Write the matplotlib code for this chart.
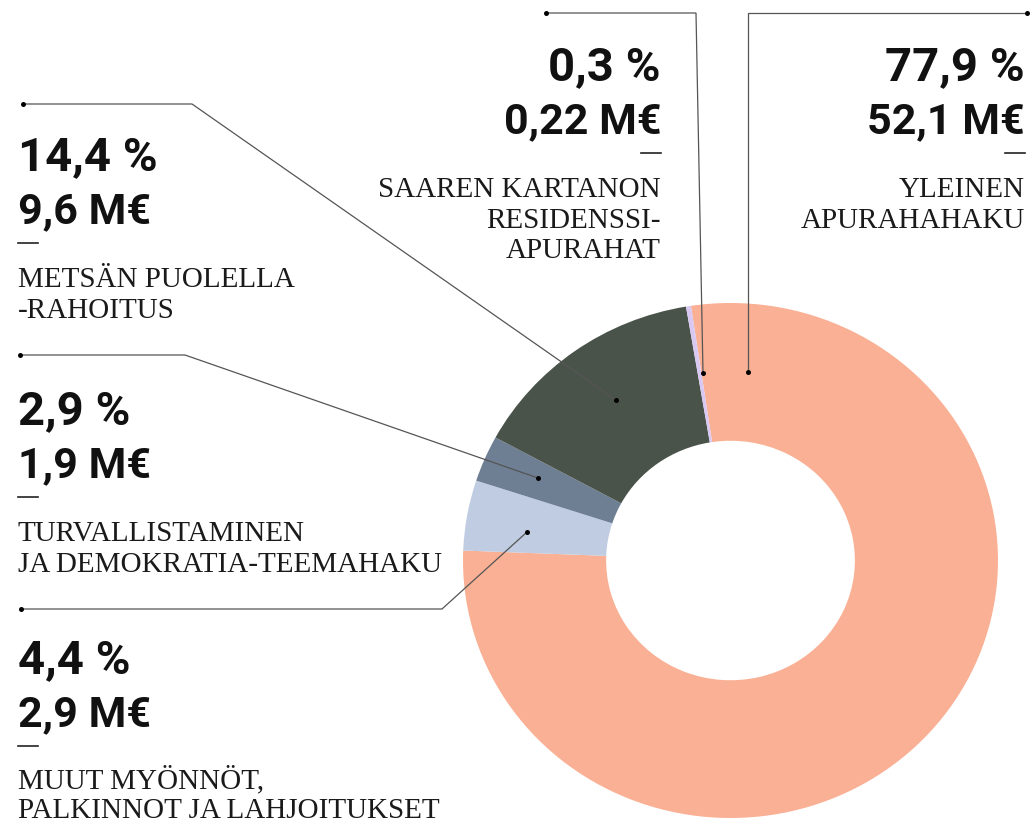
import matplotlib
matplotlib.use("Agg")
import matplotlib.pyplot as plt

# ---------------- data ----------------
categories = [
    ["YLEINEN", "APURAHAHAKU"],
    ["MUUT MYÖNNÖT,", "PALKINNOT JA LAHJOITUKSET"],
    ["TURVALLISTAMINEN", "JA DEMOKRATIA-TEEMAHAKU"],
    ["METSÄN PUOLELLA", "-RAHOITUS"],
    ["SAAREN KARTANON", "RESIDENSSI-", "APURAHAT"],
]
shares_pct = [77.9, 4.4, 2.9, 14.4, 0.3]
amounts_meur = [52.1, 2.9, 1.9, 9.6, 0.22]

# ---------------- style / layout ----------------
colors = ["#F9B094", "#BFCCE1", "#6E7E93", "#4A534A", "#D9C9F2"]
W, H = 1036, 825

# text block layout: (x anchor, ha, pct baseline, label offset, label spacing)
blocks = [
    (1025, "right", 80, 117, 30.5),
    (18, "left", 673, 115, 29.5),
    (18, "left", 424, 117, 30.5),
    (18, "left", 170, 117, 30.5),
    (661, "right", 80, 117, 30.5),
]
# leader lines (pixel coords): anchor in ring -> elbow -> end
leaders = [
    [(748, 372), (748, 13), (1027, 13)],
    [(527, 532), (442, 609), (21, 609)],
    [(538, 478), (185, 355), (20, 355)],
    [(616, 400), (192, 104), (23, 104)],
    [(703, 373), (696, 13), (546, 13)],
]

pct_font = dict(family=["Roboto", "DejaVu Sans"], weight="bold", size=34)
amt_font = dict(family=["Roboto", "DejaVu Sans"], weight="bold", size=31)
lab_font = dict(family=["Liberation Serif", "DejaVu Serif"], size=21)

fig = plt.figure(figsize=(W / 100, H / 100), dpi=100)
fig.patch.set_facecolor("white")

# ---------------- donut ----------------
pax = fig.add_axes([463 / W, 1 - 818 / H, 535 / W, 515 / H])
pax.pie(shares_pct, colors=colors, startangle=98.5, counterclock=False,
        radius=1.0, wedgeprops=dict(width=1 - 0.465, linewidth=0))
pax.set_aspect("auto")
pax.set_xlim(-1, 1)
pax.set_ylim(-1, 1)
pax.axis("off")

# ---------------- overlay for annotations ----------------
ax = fig.add_axes([0, 0, 1, 1], zorder=5)
ax.set_xlim(0, W)
ax.set_ylim(H, 0)
ax.axis("off")
ax.patch.set_alpha(0)


def fmt(v, suffix):
    s = ("%g" % v).replace(".", ",")
    return s + suffix


for cat, pct, amt, (x, ha, b, lo, ls), pts in zip(
        categories, shares_pct, amounts_meur, blocks, leaders):
    xs = [p[0] for p in pts]
    ys = [p[1] for p in pts]
    ax.plot(xs, ys, color="#555555", lw=0.9, solid_joinstyle="miter")
    ax.plot([xs[0], xs[-1]], [ys[0], ys[-1]], "o", color="black",
            markersize=3.6, markeredgewidth=0)

    ax.text(x, b, ("%.1f" % pct).replace(".", ",") + " %", ha=ha,
            va="baseline", color="#111111", **pct_font)
    ax.text(x, b + 53, fmt(amt, " M€"), ha=ha, va="baseline",
            color="#111111", **amt_font)
    dx = 20 if ha == "left" else -20
    ax.plot([x, x + dx], [b + 73, b + 73], color="#222222", lw=1.2)
    for i, line in enumerate(cat):
        ax.text(x, b + lo + ls * i, line, ha=ha, va="baseline",
                color="#1a1a1a", **lab_font)

fig.savefig("out.png", dpi=100, facecolor="white")
